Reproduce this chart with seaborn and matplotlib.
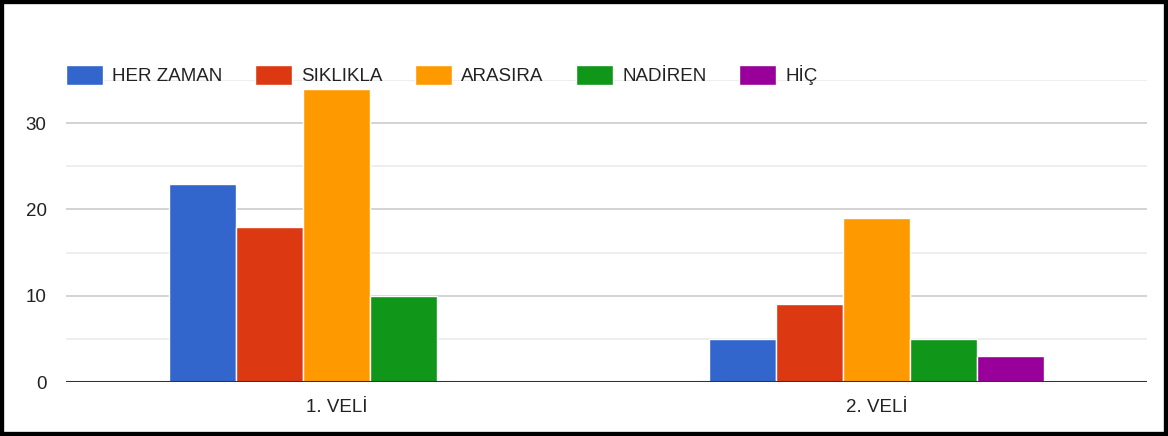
import numpy as np
import pandas as pd
import matplotlib
matplotlib.use("Agg")
import matplotlib.pyplot as plt
import seaborn as sns
from matplotlib.patches import Rectangle

# data
groups = ["1. VELİ", "2. VELİ"]
answers = ["HER ZAMAN", "SIKLIKLA", "ARASIRA", "NADİREN", "HİÇ"]
veli1 = [23, 18, 34, 10, 0]
veli2 = [5, 9, 19, 5, 3]
colors = ["#3366cc", "#dc3912", "#ff9900", "#109618", "#990099"]

df = pd.DataFrame({
    "grup": np.repeat(groups, len(answers)),
    "cevap": answers * len(groups),
    "deger": veli1 + veli2,
})

sns.set_theme(style="white")
plt.rcParams["font.family"] = ["Liberation Sans", "DejaVu Sans"]

fig = plt.figure(figsize=(11.68, 4.36), dpi=100)
ax = fig.add_axes([66 / 1168, 1 - 382 / 436, 1081 / 1168, 302 / 436])

sns.barplot(data=df, x="grup", y="deger", hue="cevap", hue_order=answers,
            palette=colors, width=0.62, dodge=True, saturation=1,
            edgecolor="white", linewidth=1, ax=ax, zorder=3)

ax.set_xlim(-0.5, 1.5)
ax.set_ylim(0, 35)
ax.set_yticks([0, 10, 20, 30])
ax.set_yticks([5, 15, 25, 35], minor=True)
ax.grid(axis="y", which="major", color="#cccccc", linewidth=1.2, zorder=0)
ax.grid(axis="y", which="minor", color="#ebebeb", linewidth=1.2, zorder=0)
ax.set_axisbelow(True)
ax.axhline(0, color="#333333", linewidth=1.5, zorder=4)
for s in ax.spines.values():
    s.set_visible(False)
ax.set_xlabel("")
ax.set_ylabel("")
ax.tick_params(axis="both", which="both", length=0, labelsize=13.5, colors="#222222")
ax.tick_params(axis="y", pad=14)
ax.tick_params(axis="x", pad=12)

handles, labels = ax.get_legend_handles_labels()
ax.get_legend().remove()
fig.legend(handles, labels, loc="center left",
           bbox_to_anchor=(66 / 1168, 1 - 75 / 436), ncol=5, frameon=False,
           fontsize=13.5, handlelength=1.95, handleheight=1.25, handletextpad=0.5,
           columnspacing=1.75, labelcolor="#222222", borderpad=0, borderaxespad=0)

# black frame round the picture
fig.patches.append(Rectangle((0, 0), 1, 1, transform=fig.transFigure,
                             fill=False, edgecolor="black", linewidth=6))

fig.savefig("out.png", dpi=100, facecolor="white")
